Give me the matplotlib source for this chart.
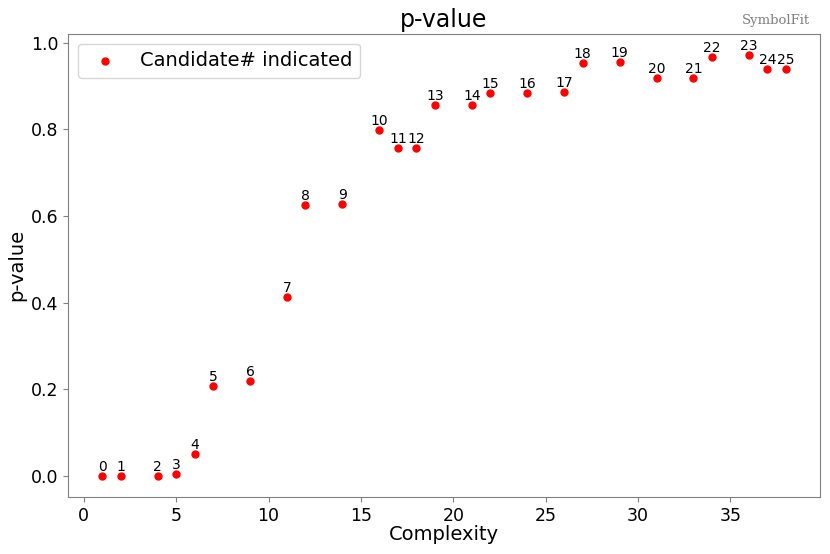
import matplotlib
matplotlib.use("Agg")
import matplotlib.pyplot as plt

complexity = [1, 2, 4, 5, 6, 7, 9, 11, 12, 14, 16, 17, 18, 19, 21, 22, 24, 26, 27, 29, 31, 33, 34, 36, 37, 38]
pvalues = [0.0, 0.0, 0.0, 0.004, 0.051, 0.208, 0.219, 0.413, 0.626, 0.628,
           0.799, 0.757, 0.757, 0.857, 0.857, 0.885, 0.885, 0.887, 0.954, 0.956,
           0.919, 0.919, 0.968, 0.972, 0.940, 0.940]
labels = [str(i) for i in range(len(complexity))]

fig, ax = plt.subplots(figsize=(8.3, 5.54), dpi=100)
ax.scatter(complexity, pvalues, color='red', s=25, zorder=3, label='Candidate# indicated')
for x, y, t in zip(complexity, pvalues, labels):
    ax.annotate(t, (x, y), textcoords='offset points', xytext=(0, 3.5), ha='center', fontsize=10)

ax.set_title('p-value', fontsize=17, pad=5)
ax.set_xlabel('Complexity', fontsize=14, labelpad=0)
ax.set_ylabel('p-value', fontsize=14, labelpad=3)
ax.tick_params(labelsize=12.5, color='gray')
for s in ax.spines.values():
    s.set_color('gray')
ax.legend(loc='upper left', fontsize=14)
fig.text(0.976, 0.963, 'SymbolFit', ha='right', va='center', fontsize=9.5,
         color='gray', family='DejaVu Serif')
fig.subplots_adjust(left=0.082, right=0.988, bottom=0.103, top=0.939)
fig.savefig('out.png', dpi=100)
